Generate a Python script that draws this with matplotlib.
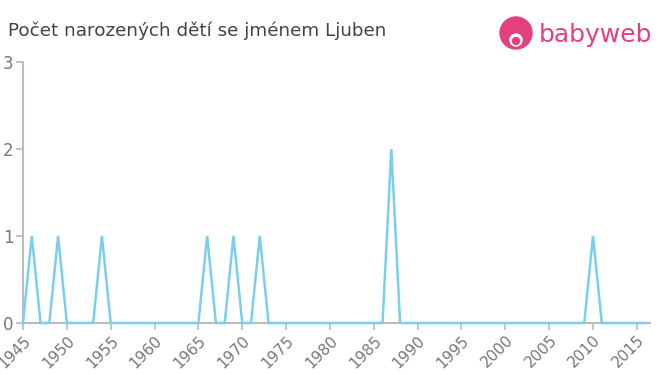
import matplotlib
matplotlib.use("Agg")
import matplotlib.pyplot as plt
from matplotlib.patches import Ellipse

years = list(range(1945, 2017))
peaks = {1946: 1, 1949: 1, 1954: 1, 1966: 1, 1969: 1, 1972: 1, 1987: 2, 2010: 1}
counts = [peaks.get(y, 0) for y in years]
xticks = list(range(1945, 2016, 5))
yticks = [0, 1, 2, 3]
title = "Počet narozených dětí se jménem Ljuben"

fig = plt.figure(figsize=(6.6, 3.75), dpi=100)
ax = fig.add_axes([23/660, 1-323/375, (650-23)/660, (323-62)/375])
ax.plot(years, counts, color="#7ccfec", lw=1.8, solid_joinstyle="miter", clip_on=False, zorder=3)
ax.set_xlim(1945, 2016.5)
ax.set_ylim(0, 3)
ax.set_xticks(xticks)
ax.set_xticklabels([str(x) for x in xticks], rotation=45, ha="right", va="top",
                   rotation_mode="anchor", fontsize=11, color="#777777")
ax.set_yticks(yticks)
ax.set_yticklabels([str(y) for y in yticks], fontsize=12, color="#777777")
for s in ["top", "right"]:
    ax.spines[s].set_visible(False)
for s in ["left", "bottom"]:
    ax.spines[s].set_color("#bbbbbb")
    ax.spines[s].set_linewidth(1.5)
ax.tick_params(axis="both", colors="#bbbbbb", length=5, width=1.2, labelcolor="#777777")
ax.tick_params(axis="x", pad=2)
ax.tick_params(axis="y", pad=2)

fig.text(8/660, 1-31/375, title, fontsize=13.2, color="#444444", va="center", ha="left")

# logo
pink = "#e2417f"
fig.patches.append(Ellipse((516/660, 1-33/375), 32/660, 32/375, transform=fig.transFigure,
                           color=pink, zorder=5))
fig.patches.append(Ellipse((516/660, 1-40/375), 12/660, 12/375, transform=fig.transFigure,
                           color="white", zorder=6))
fig.patches.append(Ellipse((516/660, 1-41/375), 7/660, 7/375, transform=fig.transFigure,
                           color=pink, zorder=7))
fig.text(539/660, 1-35/375, "babyweb", fontsize=18, color=pink, va="center", ha="left",
         fontweight="normal")

fig.savefig("out.png", dpi=100)
